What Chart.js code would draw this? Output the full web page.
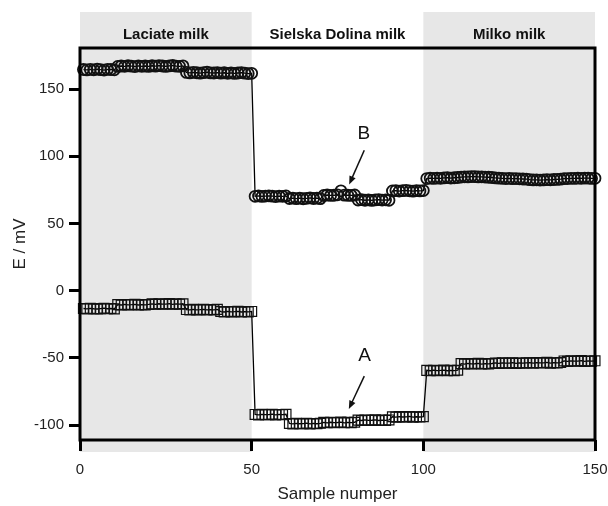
<!DOCTYPE html>
<html><head><meta charset="utf-8">
<script src="https://cdn.jsdelivr.net/npm/chart.js@4/dist/chart.umd.min.js"></script>
<style>html,body{margin:0;padding:0;background:#fff}#wrap{width:608px;height:506px}</style>
</head><body><div id="wrap"><canvas id="c" width="608" height="506"></canvas></div>
<script>
// Series B (circles), samples 1..150
const seriesB = [
 164.5,164.2,164.6,164.3,164.8,164.4,164.1,164.6,164.5,164.3,
 166.8,167.1,166.9,167.3,167.0,166.7,167.2,166.9,167.1,166.8,
 167.3,167.0,167.4,167.1,166.8,167.2,167.5,167.0,166.9,167.2,
 162.3,162.0,162.4,162.1,161.8,162.2,162.5,162.0,161.9,162.2,
 161.8,162.1,161.7,162.0,161.6,161.9,162.2,161.8,161.5,161.7,
 70.2,70.5,70.1,70.4,70.6,70.3,70.0,70.4,70.2,70.5,
 68.6,68.9,68.5,68.8,68.4,68.7,69.0,68.6,68.8,68.5,
 70.8,71.2,70.9,71.0,71.3,74.3,71.1,71.0,70.9,71.2,
 67.4,67.7,67.3,67.6,67.2,67.5,67.8,67.4,67.6,67.3,
 74.2,74.5,74.1,74.4,74.6,74.3,74.0,74.4,74.2,74.5,
 83.4,83.7,83.5,83.8,83.6,83.9,84.1,83.8,84.0,84.2,
 84.5,84.7,84.6,84.9,84.8,84.6,84.7,84.5,84.4,84.2,
 83.9,83.7,83.6,83.4,83.5,83.3,83.4,83.2,83.1,83.0,
 82.6,82.4,82.5,82.3,82.4,82.6,82.5,82.7,82.8,83.0,
 83.3,83.4,83.6,83.5,83.7,83.6,83.8,83.7,83.5,83.6
];
// Series A (squares), samples 1..150
const seriesA = [
 -13.2,-13.5,-13.1,-13.4,-13.6,-13.3,-13.0,-13.4,-13.2,-13.5,
 -10.3,-10.6,-10.2,-10.5,-10.4,-10.1,-10.6,-10.3,-10.5,-10.2,
 -9.8,-10.1,-9.7,-10.0,-9.9,-9.6,-10.1,-9.8,-10.0,-9.7,
 -14.0,-14.3,-13.9,-14.2,-14.1,-13.8,-14.3,-14.0,-14.2,-13.9,
 -15.5,-15.8,-15.4,-15.7,-15.6,-15.3,-15.8,-15.5,-15.7,-15.4,
 -92.0,-92.3,-91.9,-92.2,-92.1,-91.8,-92.3,-92.0,-92.2,-91.9,
 -98.7,-99.0,-98.6,-98.9,-98.8,-98.5,-99.0,-98.7,-98.9,-98.6,
 -97.9,-98.2,-97.8,-98.1,-98.0,-97.7,-98.2,-97.9,-98.1,-97.8,
 -96.2,-96.5,-96.1,-96.4,-96.3,-96.0,-96.5,-96.2,-96.4,-96.1,
 -93.7,-94.0,-93.6,-93.9,-93.8,-93.5,-94.0,-93.7,-93.9,-93.6,
 -59.2,-59.5,-59.1,-59.4,-59.3,-59.0,-59.5,-59.2,-59.4,-59.1,
 -54.2,-54.5,-54.1,-54.4,-54.3,-54.0,-54.5,-54.2,-54.4,-54.1,
 -53.7,-54.0,-53.6,-53.9,-53.8,-53.5,-54.0,-53.7,-53.9,-53.6,
 -53.5,-53.8,-53.4,-53.7,-53.6,-53.3,-53.8,-53.5,-53.7,-53.4,
 -52.2,-52.5,-52.1,-52.4,-52.3,-52.0,-52.5,-52.2,-52.4,-52.1
];
const xTicks = [0, 50, 100, 150];
const yTicks = [-100, -50, 0, 50, 100, 150];
const milkNames = ['Laciate milk', 'Sielska Dolina milk', 'Milko milk'];
const milkStart = [0, 50, 100];
const milkEnd = [50, 100, 150];
const milkShaded = [true, false, true];
const annLabels = ['B', 'A'];
const annText = [[82.7, 117], [82.9, -48.5]];
const annFrom = [[82.8, 104.5], [82.8, -63.5]];
const annTo = [[78.4, 79], [78.3, -88]];

const FONT = "'Liberation Sans', Arial, sans-serif";
const toPts = arr => arr.map((v, i) => ({x: i + 1, y: v}));

const decor = {
  id: 'decor',
  beforeDraw(chart) {
    const {ctx, chartArea: a, scales: {x}} = chart;
    ctx.save();
    ctx.fillStyle = '#e7e7e7';
    for (let i = 0; i < milkNames.length; i++) {
      if (!milkShaded[i]) continue;
      const x0 = x.getPixelForValue(milkStart[i]), x1 = x.getPixelForValue(milkEnd[i]);
      ctx.fillRect(x0, 12, x1 - x0, a.bottom);
    }
    ctx.fillStyle = '#111';
    ctx.font = 'bold 15px ' + FONT;
    ctx.textAlign = 'center';
    ctx.textBaseline = 'middle';
    for (let i = 0; i < milkNames.length; i++) {
      const xc = x.getPixelForValue((milkStart[i] + milkEnd[i]) / 2);
      ctx.fillText(milkNames[i], xc, 35);
    }
    ctx.restore();
  },
  afterDatasetsDraw(chart) {
    const {ctx, chartArea: a, scales: {x, y}} = chart;
    ctx.save();
    ctx.strokeStyle = '#000';
    ctx.lineWidth = 3;
    ctx.strokeRect(a.left, a.top, a.right - a.left, a.bottom - a.top);
    ctx.fillStyle = '#111';
    ctx.font = '19px ' + FONT;
    ctx.textAlign = 'center';
    ctx.textBaseline = 'middle';
    for (let i = 0; i < annLabels.length; i++) {
      ctx.fillText(annLabels[i], x.getPixelForValue(annText[i][0]), y.getPixelForValue(annText[i][1]));
      const fx = x.getPixelForValue(annFrom[i][0]), fy = y.getPixelForValue(annFrom[i][1]);
      const tx = x.getPixelForValue(annTo[i][0]), ty = y.getPixelForValue(annTo[i][1]);
      const ang = Math.atan2(ty - fy, tx - fx);
      const hl = 9;
      ctx.strokeStyle = '#111';
      ctx.lineWidth = 1.5;
      ctx.beginPath();
      ctx.moveTo(fx, fy);
      ctx.lineTo(tx - Math.cos(ang) * hl * 0.8, ty - Math.sin(ang) * hl * 0.8);
      ctx.stroke();
      ctx.beginPath();
      ctx.moveTo(tx, ty);
      ctx.lineTo(tx - hl * Math.cos(ang - 0.38), ty - hl * Math.sin(ang - 0.38));
      ctx.lineTo(tx - hl * Math.cos(ang + 0.38), ty - hl * Math.sin(ang + 0.38));
      ctx.closePath();
      ctx.fill();
    }
    ctx.restore();
  }
};

new Chart(document.getElementById('c'), {
  type: 'scatter',
  data: {
    datasets: [
      {label: 'B', data: toPts(seriesB), showLine: true, borderColor: '#000', borderWidth: 1.3,
       pointStyle: 'circle', pointRadius: 5.5, pointBorderWidth: 1.8, pointBorderColor: '#111',
       pointBackgroundColor: 'rgba(0,0,0,0)', clip: false},
      {label: 'A', data: toPts(seriesA), showLine: true, borderColor: '#000', borderWidth: 1.3,
       pointStyle: 'rect', pointRadius: 7, pointBorderWidth: 1.2, pointBorderColor: '#111',
       pointBackgroundColor: 'rgba(0,0,0,0)', clip: false}
    ]
  },
  options: {
    responsive: false, animation: false, devicePixelRatio: 1,
    layout: {padding: {top: 48, right: 13, left: 0, bottom: 0}},
    plugins: {legend: {display: false}, tooltip: {enabled: false}},
    elements: {point: {hoverRadius: 5}},
    scales: {
      x: {
        type: 'linear', min: 0, max: 150,
        afterBuildTicks: s => { s.ticks = xTicks.map(v => ({value: v})); },
        afterFit: s => { s.height = 66; s.paddingLeft = 0; s.paddingRight = 0; },
        border: {display: false},
        grid: {drawOnChartArea: false, drawTicks: true, tickLength: 11, tickWidth: 3, tickColor: '#000'},
        ticks: {font: {family: FONT, size: 15}, color: '#222', padding: 10, maxRotation: 0},
        title: {display: true, text: 'Sample numper', font: {family: FONT, size: 17}, color: '#222', padding: {top: 0, bottom: 1}}
      },
      y: {
        type: 'linear', min: -111, max: 180.5,
        afterBuildTicks: s => { s.ticks = yTicks.map(v => ({value: v})); },
        afterFit: s => { s.width = 80; s.paddingTop = 0; s.paddingBottom = 0; },
        border: {display: false},
        grid: {drawOnChartArea: false, drawTicks: true, tickLength: 11, tickWidth: 3, tickColor: '#000'},
        ticks: {font: {family: FONT, size: 15}, color: '#222', padding: 5},
        title: {display: true, text: 'E / mV', font: {family: FONT, size: 17}, color: '#222', padding: {top: 10, bottom: 0}}
      }
    }
  },
  plugins: [decor]
});
</script></body></html>
